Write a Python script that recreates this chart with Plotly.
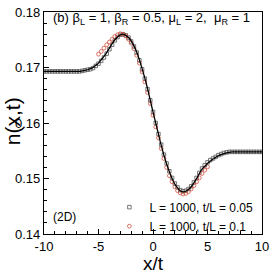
import plotly.graph_objects as go

# x/t grid for the theory curve and the t/L = 0.05 data
x_a = [-10 + 0.25 * i for i in range(81)]
n_theory = [0.1693] * 13 + [
    0.1693, 0.1694, 0.1695, 0.1696, 0.1698, 0.1700, 0.1704, 0.1708,
    0.1714, 0.1720, 0.1727, 0.1735, 0.1743, 0.1750, 0.1755, 0.1759,
    0.1760, 0.1758, 0.1754, 0.1748, 0.1739, 0.1728, 0.1714, 0.1698,
    0.1681, 0.1662, 0.1641, 0.1620, 0.1600, 0.1580, 0.1560, 0.1542,
    0.1526, 0.1512, 0.1500, 0.1490, 0.1483, 0.1478, 0.1476, 0.1477,
    0.1480, 0.1485, 0.1492, 0.1500, 0.1509, 0.1517, 0.1522, 0.1527,
    0.1531, 0.1535, 0.1538, 0.1541, 0.1543, 0.1545, 0.1546, 0.1547,
] + [0.1548] * 12
n_005 = [0.1693] * 13 + [
    0.1693, 0.1694, 0.1695, 0.1696, 0.1697, 0.1699, 0.1703, 0.1707,
    0.1712, 0.1718, 0.1725, 0.1733, 0.1741, 0.1749, 0.1755, 0.1759,
    0.1760, 0.1758, 0.1754, 0.1747, 0.1738, 0.1727, 0.1713, 0.1697,
    0.1680, 0.1661, 0.1641, 0.1620, 0.1600, 0.1580, 0.1561, 0.1543,
    0.1527, 0.1513, 0.1501, 0.1491, 0.1484, 0.1479, 0.1477, 0.1478,
    0.1481, 0.1486, 0.1493, 0.1501, 0.1510, 0.1518, 0.1524, 0.1529,
    0.1533, 0.1536, 0.1539, 0.1542, 0.1544, 0.1546, 0.1547, 0.1548,
] + [0.1548] * 12

# t/L = 0.1 data
x_b = [-5 + 0.25 * i for i in range(41)]
n_01 = [
    0.1724, 0.1729, 0.1735, 0.1741, 0.1746, 0.1751, 0.1756, 0.1759,
    0.1761, 0.1760, 0.1757, 0.1751, 0.1744, 0.1734, 0.1722, 0.1708,
    0.1692, 0.1674, 0.1655, 0.1635, 0.1614, 0.1593, 0.1573, 0.1554,
    0.1536, 0.1520, 0.1505, 0.1494, 0.1485, 0.1478, 0.1474, 0.1472,
    0.1473, 0.1476, 0.1481, 0.1487, 0.1494, 0.1501, 0.1509, 0.1515,
    0.1521,
]

x_ticks = [-10, -5, 0, 5, 10]
x_ticktext = ["-10", "-5", "0", "5", "10"]
y_ticks = [0.14, 0.15, 0.16, 0.17, 0.18]
y_ticktext = ["0.14", "0.15", "0.16", "0.17", "0.18"]

FONT = "Liberation Sans, Arial, sans-serif"

fig = go.Figure()
fig.add_trace(go.Scatter(
    x=x_a, y=n_005, mode="markers", name="L = 1000, t/L = 0.05",
    marker=dict(symbol="square-open", size=3.5, color="#555555",
                line=dict(width=0.8, color="#555555")),
))
fig.add_trace(go.Scatter(
    x=x_b, y=n_01, mode="markers", name="L = 1000, t/L = 0.1",
    marker=dict(symbol="circle-open", size=3.8, color="#d0503f",
                line=dict(width=0.8, color="#d0503f")),
))
fig.add_trace(go.Scatter(
    x=x_a, y=n_theory, mode="lines", showlegend=False,
    line=dict(color="black", width=1.3, shape="spline"),
))

fig.update_layout(
    width=274, height=274,
    margin=dict(l=44, r=6, t=5, b=40),
    paper_bgcolor="white", plot_bgcolor="white",
    font=dict(family=FONT, size=12, color="black"),
    showlegend=True,
    legend=dict(x=0.30, y=-0.03, xanchor="left", yanchor="bottom",
                bgcolor="rgba(0,0,0,0)", font=dict(size=12),
                itemwidth=30, tracegroupgap=0),
    annotations=[
        dict(text="(b) β<sub>L</sub> = 1, β<sub>R</sub> = 0.5, μ<sub>L</sub> = 2,  μ<sub>R</sub> = 1",
             x=0.03, y=1.02, xref="paper", yref="paper",
             xanchor="left", yanchor="top", showarrow=False,
             font=dict(size=13)),
        dict(text="(2D)", x=0.03, y=0.035, xref="paper", yref="paper",
             xanchor="left", yanchor="bottom", showarrow=False,
             font=dict(size=12)),
        dict(text="x/t", x=0.5, y=-0.132, xref="paper", yref="paper",
             xanchor="center", yanchor="middle", showarrow=False,
             font=dict(size=19)),
        dict(text="n(x,t)", x=-0.145, y=0.51, xref="paper", yref="paper",
             xanchor="center", yanchor="middle", showarrow=False,
             textangle=-90, font=dict(size=21)),
    ],
)
fig.update_xaxes(
    range=[-10, 10], tickvals=x_ticks, ticktext=x_ticktext,
    ticks="inside", ticklen=5, tickwidth=1, tickcolor="black",
    minor=dict(dtick=1, ticks="inside", ticklen=3, tickcolor="black"),
    showline=True, linecolor="black", linewidth=1.2, mirror=True,
    showgrid=False, zeroline=False, ticklabeloverflow="allow",
    tickfont=dict(size=13),
)
fig.update_yaxes(
    range=[0.13999, 0.18001], tickvals=y_ticks, ticktext=y_ticktext,
    ticks="inside", ticklen=5, tickwidth=1, tickcolor="black",
    minor=dict(dtick=0.002, ticks="inside", ticklen=3, tickcolor="black"),
    showline=True, linecolor="black", linewidth=1.2, mirror=True,
    showgrid=False, zeroline=False, ticklabeloverflow="allow",
    tickfont=dict(size=13),
)

fig.write_html("out.html", config={"displayModeBar": False},
               post_script="document.body.style.margin='0';document.body.style.padding='0';")
